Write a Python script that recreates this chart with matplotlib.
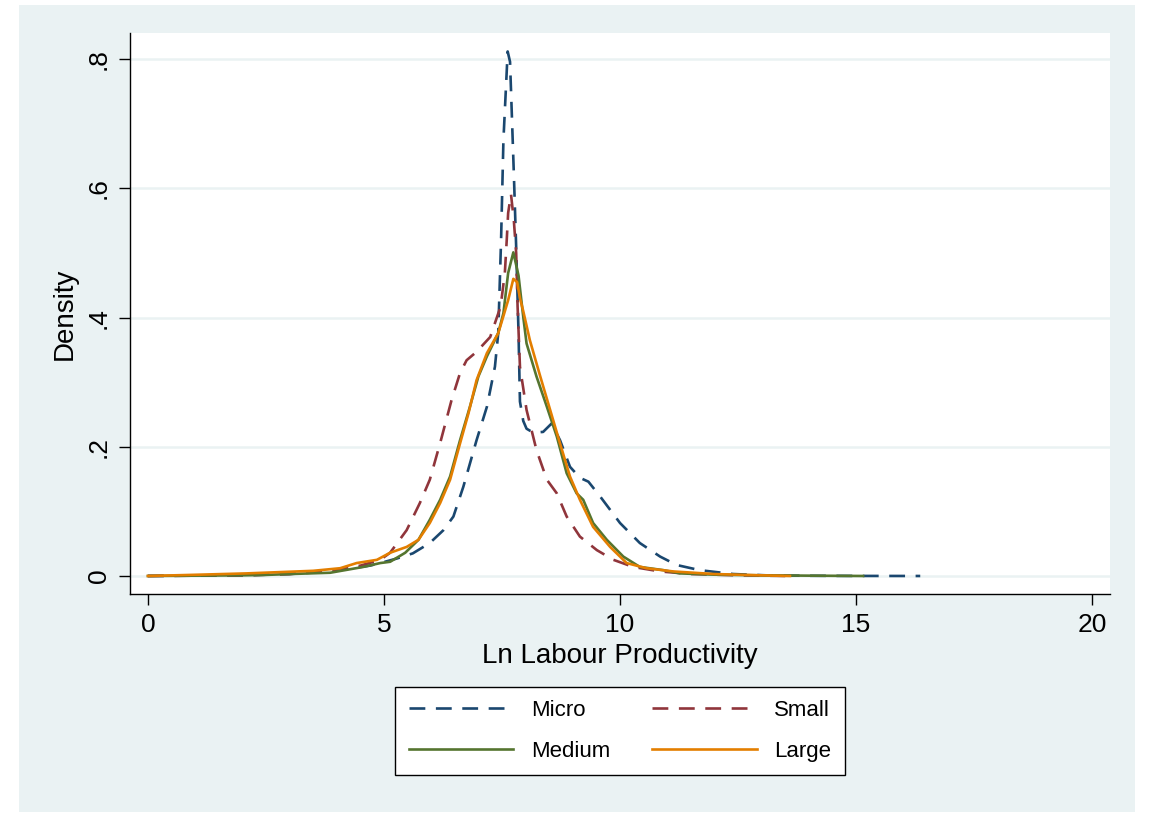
import matplotlib
matplotlib.use("Agg")
import matplotlib.pyplot as plt
from matplotlib.patches import Rectangle

plt.rcParams['font.family'] = ['Liberation Sans', 'DejaVu Sans']

# kernel density estimates
micro_x = [0, 1.0, 2.0, 3.0, 3.64, 4.14, 4.7, 4.92, 5.27, 5.61, 5.97, 6.26, 6.47, 6.68, 6.96,
           7.18, 7.35, 7.42, 7.48, 7.53, 7.62, 7.67, 7.75, 7.80, 7.85, 7.88, 7.95, 8.02, 8.16,
           8.37, 8.55, 8.73, 8.94, 9.15, 9.33, 9.58, 10.0, 10.42, 10.85, 11.2, 11.69, 12.4,
           13.1, 14.0, 15.0, 16.36]
micro_y = [0, 0.0005, 0.001, 0.003, 0.006, 0.01, 0.016, 0.02, 0.027, 0.035, 0.051, 0.071, 0.092,
           0.138, 0.21, 0.262, 0.324, 0.376, 0.52, 0.675, 0.812, 0.796, 0.624, 0.509, 0.376,
           0.27, 0.24, 0.228, 0.222, 0.223, 0.236, 0.21, 0.169, 0.152, 0.146, 0.123, 0.082,
           0.051, 0.03, 0.017, 0.009, 0.003, 0.001, 0.0003, 0.0001, 0]

small_x = [0, 1.0, 2.0, 3.0, 4.0, 4.5, 4.92, 5.13, 5.48, 5.76, 5.97, 6.19, 6.43, 6.61, 6.75,
           6.96, 7.25, 7.39, 7.47, 7.56, 7.60, 7.63, 7.69, 7.75, 7.80, 7.83, 7.88, 8.02, 8.23,
           8.45, 8.66, 8.87, 9.15, 9.51, 9.86, 10.28, 10.85, 11.5, 12.5, 13.5]
small_y = [0, 0.0005, 0.001, 0.003, 0.01, 0.016, 0.025, 0.036, 0.071, 0.113, 0.149, 0.206,
           0.272, 0.314, 0.334, 0.347, 0.37, 0.40, 0.417, 0.469, 0.52, 0.562, 0.591, 0.551,
           0.5, 0.417, 0.324, 0.257, 0.195, 0.149, 0.128, 0.092, 0.061, 0.04, 0.025, 0.014,
           0.007, 0.003, 0.001, 0]

medium_x = [0, 1.0, 2.0, 2.44, 3.0, 3.86, 4.56, 4.92, 5.13, 5.45, 5.73, 5.97, 6.19, 6.40, 6.61,
            6.82, 7.0, 7.18, 7.42, 7.53, 7.63, 7.74, 7.85, 7.95, 8.02, 8.23, 8.45, 8.66, 8.87,
            9.08, 9.22, 9.43, 9.72, 10.07, 10.42, 10.92, 11.27, 12.0, 13.0, 14.0, 15.15]
medium_y = [0, 0.0005, 0.001, 0.0015, 0.003, 0.005, 0.014, 0.02, 0.022, 0.036, 0.056, 0.087,
            0.118, 0.154, 0.21, 0.262, 0.309, 0.34, 0.376, 0.407, 0.469, 0.501, 0.465, 0.401,
            0.36, 0.309, 0.262, 0.216, 0.159, 0.128, 0.118, 0.082, 0.056, 0.03, 0.014, 0.009,
            0.004, 0.002, 0.001, 0.0005, 0]

large_x = [0, 0.82, 2.09, 3.5, 4.07, 4.42, 4.85, 5.13, 5.48, 5.73, 5.97, 6.19, 6.40, 6.61, 6.79,
           6.96, 7.18, 7.42, 7.52, 7.63, 7.74, 7.82, 7.88, 7.95, 8.09, 8.31, 8.52, 8.73, 8.94,
           9.15, 9.43, 9.79, 10.14, 10.56, 11.13, 12.0, 13.0, 13.6]
large_y = [0, 0.0015, 0.004, 0.008, 0.012, 0.02, 0.025, 0.036, 0.045, 0.056, 0.082, 0.113,
           0.149, 0.205, 0.252, 0.303, 0.345, 0.376, 0.40, 0.427, 0.46, 0.455, 0.43, 0.41,
           0.365, 0.309, 0.257, 0.205, 0.154, 0.118, 0.076, 0.045, 0.02, 0.012, 0.007, 0.003,
           0.001, 0]

y_ticks = [0, 0.2, 0.4, 0.6, 0.8]
y_labels = ["0", ".2", ".4", ".6", ".8"]
x_ticks = [0, 5, 10, 15, 20]

navy = "#1a476f"
maroon = "#90353b"
green = "#55752f"
orange = "#e37e00"
bg = "#eaf2f3"

fig = plt.figure(figsize=(11.5, 8.13), dpi=100)
fig.patch.set_facecolor("white")
fig.patches.append(Rectangle((19 / 1150, 1 / 813), 1116 / 1150, 807 / 813,
                             transform=fig.transFigure, facecolor=bg, edgecolor="none",
                             zorder=-10))

ax = fig.add_axes([130 / 1150, 1 - 594 / 813, 980 / 1150, 561 / 813])
ax.set_facecolor("white")

dash = (0, (6.0, 4.0))
lw = 1.9
l1, = ax.plot(micro_x, micro_y, color=navy, lw=lw, linestyle=dash, label="Micro")
l2, = ax.plot(small_x, small_y, color=maroon, lw=lw, linestyle=dash, label="Small")
l3, = ax.plot(medium_x, medium_y, color=green, lw=lw, label="Medium")
l4, = ax.plot(large_x, large_y, color=orange, lw=lw, label="Large")

ax.set_xlim(-0.381, 20.38)
ax.set_ylim(-0.0279, 0.8406)

for yv in y_ticks:
    ax.axhline(yv, color=bg, lw=1.8, zorder=0)

ax.set_yticks(y_ticks)
ax.set_yticklabels(y_labels, rotation=90, va="center")
ax.set_xticks(x_ticks)
ax.tick_params(axis="both", labelsize=19, length=8, width=1, direction="out", pad=6)

for s in ["top", "right"]:
    ax.spines[s].set_visible(False)
for s in ["left", "bottom"]:
    ax.spines[s].set_linewidth(1.0)

ax.set_xlabel("Ln Labour Productivity", fontsize=20, labelpad=4)
ax.set_ylabel("Density", fontsize=20, labelpad=6)

# row-wise order like Stata: Micro, Small / Medium, Large
leg = fig.legend([l1, l3, l2, l4], ["Micro", "Medium", "Small", "Large"], loc="center",
                 bbox_to_anchor=(620 / 1150, 1 - 731 / 813),
                 ncol=2, fontsize=16, frameon=True, fancybox=False, framealpha=1,
                 handlelength=4.7, handletextpad=0.8, columnspacing=1.9, borderpad=0.6,
                 labelspacing=0.9)
leg.get_frame().set_edgecolor("black")
leg.get_frame().set_linewidth(1.0)
leg.get_frame().set_facecolor("white")

fig.savefig("out.png", dpi=100, facecolor=fig.get_facecolor())
